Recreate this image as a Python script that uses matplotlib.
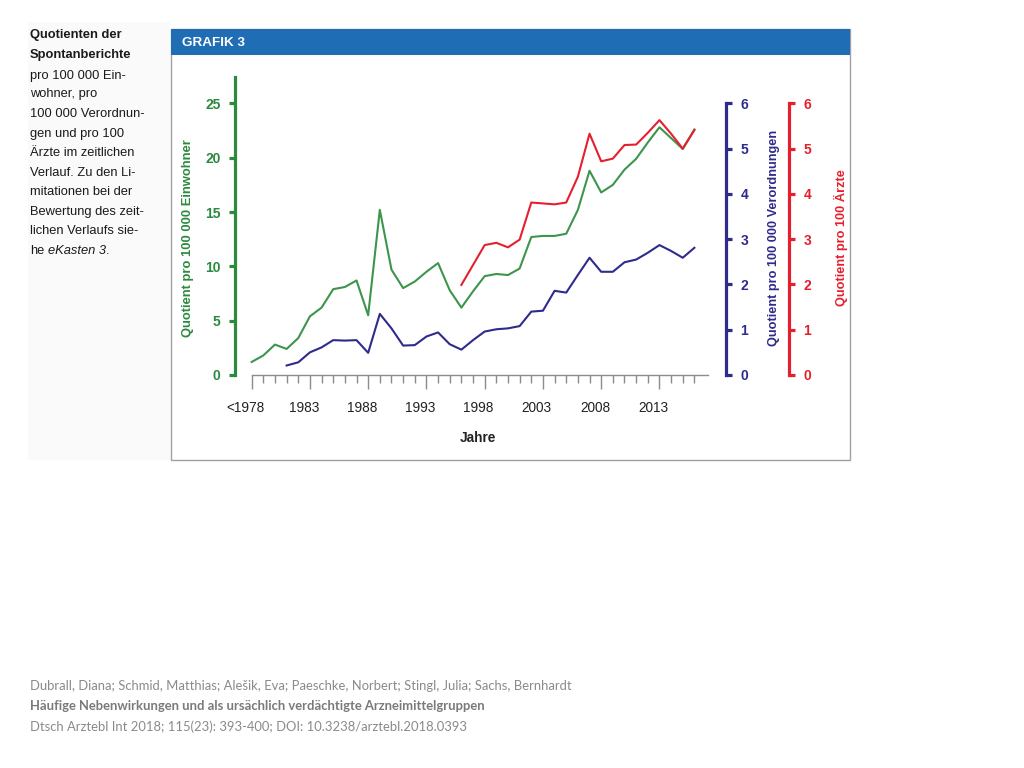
import matplotlib
matplotlib.use("Agg")
import matplotlib.pyplot as plt
from matplotlib.patches import Rectangle
from matplotlib.transforms import ScaledTranslation

# years: index 0 = "<1978", index 38 = 2016
years = list(range(1978, 2017))
tick_labels = ["<1978", "1983", "1988", "1993", "1998", "2003", "2008", "2013"]

# Quotient pro 100 000 Einwohner (1978..2016)
einwohner = [1.2, 1.8, 2.8, 2.4, 3.4, 5.4, 6.2, 7.9, 8.1, 8.7, 5.5, 15.2,
             9.7, 8.0, 8.6, 9.5, 10.3, 7.8, 6.2, 7.7, 9.1, 9.3, 9.2, 9.8,
             12.7, 12.8, 12.8, 13.0, 15.2, 18.8, 16.8, 17.5, 18.9, 19.9,
             21.4, 22.8, 21.8, 20.8, 22.6]

# Quotient pro 100 000 Verordnungen (1981..2016)
verord_years = list(range(1981, 2017))
verordnungen = [0.21, 0.28, 0.50, 0.61, 0.77, 0.76, 0.77, 0.49, 1.35, 1.03,
                0.65, 0.66, 0.85, 0.94, 0.68, 0.56, 0.77, 0.96, 1.01, 1.03,
                1.08, 1.40, 1.42, 1.86, 1.82, 2.21, 2.59, 2.28, 2.28, 2.49,
                2.55, 2.70, 2.87, 2.74, 2.59, 2.81]

# Quotient pro 100 Aerzte (1996..2016)
aerzte_years = list(range(1996, 2017))
aerzte = [1.99, 2.43, 2.87, 2.92, 2.82, 2.99, 3.81, 3.79, 3.77, 3.81, 4.38,
          5.33, 4.72, 4.78, 5.08, 5.09, 5.35, 5.63, 5.33, 5.00, 5.41]

GREEN = "#2b8a3e"
GREEN_LINE = "#3d954c"
BLUE = "#2e2b8c"
RED = "#e5202e"
GRAY = "#8c8c8c"

plt.rcParams["font.family"] = ["Liberation Sans", "DejaVu Sans"]

fig = plt.figure(figsize=(10.24, 7.68), dpi=100)
fig.patch.set_facecolor("white")

W, H = 1024.0, 768.0
AX_W = 789 - 235.0
AX_H = 375 - 77.3


def fx(px):
    return px / W


def fy(py):
    return 1 - py / H


# left caption panel and chart frame (behind the axes)
fig.patches.append(Rectangle((fx(28), fy(460)), fx(142), (460 - 22) / H,
                             transform=fig.transFigure, facecolor="#fafafa",
                             edgecolor="none", zorder=-3))
fig.patches.append(Rectangle((fx(171), fy(460)), fx(679), (460 - 29) / H,
                             transform=fig.transFigure, facecolor="white",
                             edgecolor="#a0a0a0", linewidth=1.0, zorder=-2))
fig.patches.append(Rectangle((fx(171), fy(55)), fx(679), 26 / H,
                             transform=fig.transFigure, facecolor="#1f6db4",
                             edgecolor="none", zorder=-1))
fig.text(fx(182), fy(43), "GRAFIK 3", color="white", fontsize=9.7,
         fontweight="bold", va="center", ha="left")

# main axes: left spine x=235px, right spine x=789px, y 0 at 375px
ax = fig.add_axes([fx(235), fy(375), AX_W / W, AX_H / H])
ax.set_facecolor("none")
ax.plot([y - 1978 for y in years], einwohner, color=GREEN_LINE, lw=1.5,
        zorder=3)
ax.set_xlim(-1.43, 46.12)
ax.set_ylim(0, 27.4)

for s in ["top", "right"]:
    ax.spines[s].set_visible(False)
ax.spines["left"].set_color(GREEN)
ax.spines["left"].set_linewidth(2.3)
ax.spines["bottom"].set_color(GRAY)
ax.spines["bottom"].set_linewidth(1.0)
ax.spines["bottom"].set_bounds(0, 39.2)

ax.set_yticks([0, 5, 10, 15, 20, 25])
ax.tick_params(axis="y", colors=GREEN, width=2.3, length=4.5, pad=6,
               labelsize=10)
for t in ax.get_yticklabels():
    t.set_fontweight("bold")
ax.set_ylabel("Quotient pro 100 000 Einwohner", color=GREEN, fontsize=9.4,
              fontweight="bold")
ax.yaxis.set_label_coords((194 - 235) / AX_W, 0.46)

ax.set_xticks(list(range(0, 36, 5)))
ax.set_xticklabels(tick_labels)
ax.set_xticks(list(range(0, 39)), minor=True)
ax.tick_params(axis="x", which="major", colors="#222222", color=GRAY,
               length=10, width=1.0, pad=9, labelsize=9.8)
ax.tick_params(axis="x", which="minor", color=GRAY, length=5.5, width=1.0)
# labels in the original sit a little left of their ticks
shift = ScaledTranslation(-6 / 100.0, 0, fig.dpi_scale_trans)
for t in ax.get_xticklabels():
    t.set_transform(t.get_transform() + shift)
ax.set_xlabel("Jahre", fontsize=9.8, fontweight="bold", color="#222222")
ax.xaxis.set_label_coords((478 - 235) / AX_W, -(431 - 375) / AX_H)

# Verordnungen axis
ax2 = ax.twinx()
ax2.plot([y - 1978 for y in verord_years], verordnungen, color=BLUE, lw=1.5,
         zorder=3)
ax2.set_ylim(0, 27.4 * 6 / 25)
for s in ["top", "left", "bottom"]:
    ax2.spines[s].set_visible(False)
ax2.spines["right"].set_position(("axes", (725.7 - 235) / AX_W))
ax2.spines["right"].set_color(BLUE)
ax2.spines["right"].set_linewidth(2.3)
ax2.spines["right"].set_bounds(0, 6)
ax2.set_yticks(range(7))
ax2.tick_params(axis="y", colors=BLUE, width=2.3, length=4.5, pad=6,
                labelsize=10)
for t in ax2.get_yticklabels():
    t.set_fontweight("bold")
ax2.set_ylabel("Quotient pro 100 000 Verordnungen", color=BLUE,
               fontsize=9.2, fontweight="bold")
ax2.yaxis.set_label_coords((768 - 235) / AX_W, 0.46)

# Aerzte axis
ax3 = ax.twinx()
ax3.plot([y - 1978 for y in aerzte_years], aerzte, color=RED, lw=1.5,
         zorder=4)
ax3.set_ylim(0, 27.4 * 6 / 25)
for s in ["top", "left", "bottom"]:
    ax3.spines[s].set_visible(False)
ax3.spines["right"].set_color(RED)
ax3.spines["right"].set_linewidth(2.3)
ax3.spines["right"].set_bounds(0, 6)
ax3.set_yticks(range(7))
ax3.tick_params(axis="y", colors=RED, width=2.3, length=4.5, pad=6,
                labelsize=10)
for t in ax3.get_yticklabels():
    t.set_fontweight("bold")
ax3.set_ylabel("Quotient pro 100 Ärzte", color=RED, fontsize=9.2,
               fontweight="bold")
ax3.yaxis.set_label_coords((834 - 235) / AX_W, 0.46)

# caption on the left
caption = [("Quotienten der", "bold"), ("Spontanberichte", "bold"),
           ("pro 100 000 Ein-", "normal"), ("wohner, pro", "normal"),
           ("100 000 Verordnun-", "normal"), ("gen und pro 100", "normal"),
           ("Ärzte im zeitlichen", "normal"), ("Verlauf. Zu den Li-", "normal"),
           ("mitationen bei der", "normal"), ("Bewertung des zeit-", "normal"),
           ("lichen Verlaufs sie-", "normal")]
line_y = [35, 55, 75.5, 94.5, 114, 133.5, 153, 172.5, 192, 211.5, 231]
for (txt, wt), yy in zip(caption, line_y):
    fig.text(fx(30), fy(yy), txt, fontsize=9.3, fontweight=wt,
             color="#1a1a1a", va="center", ha="left")
fig.text(fx(30), fy(250.5), "he", fontsize=9.3, color="#1a1a1a",
         va="center", ha="left")
fig.text(fx(47.5), fy(250.5), "eKasten 3", fontsize=9.3, style="italic",
         color="#1a1a1a", va="center", ha="left")
fig.text(fx(105.5), fy(250.5), ".", fontsize=9.3, color="#1a1a1a",
         va="center", ha="left")

# citation at the bottom
cite_font = ["Lato", "DejaVu Sans"]
fig.text(fx(30), fy(686), "Dubrall, Diana; Schmid, Matthias; Alešik, Eva; "
         "Paeschke, Norbert; Stingl, Julia; Sachs, Bernhardt",
         fontsize=9.35, family=cite_font, color="#8a8a8a", va="center")
fig.text(fx(30), fy(706), "Häufige Nebenwirkungen und als ursächlich "
         "verdächtigte Arzneimittelgruppen", fontsize=9.35, family=cite_font,
         fontweight="bold", color="#7a7a7a", va="center")
fig.text(fx(30), fy(727), "Dtsch Arztebl Int 2018; 115(23): 393-400; "
         "DOI: 10.3238/arztebl.2018.0393", fontsize=9.35, family=cite_font,
         color="#8a8a8a", va="center")

fig.savefig("out.png", dpi=100)
